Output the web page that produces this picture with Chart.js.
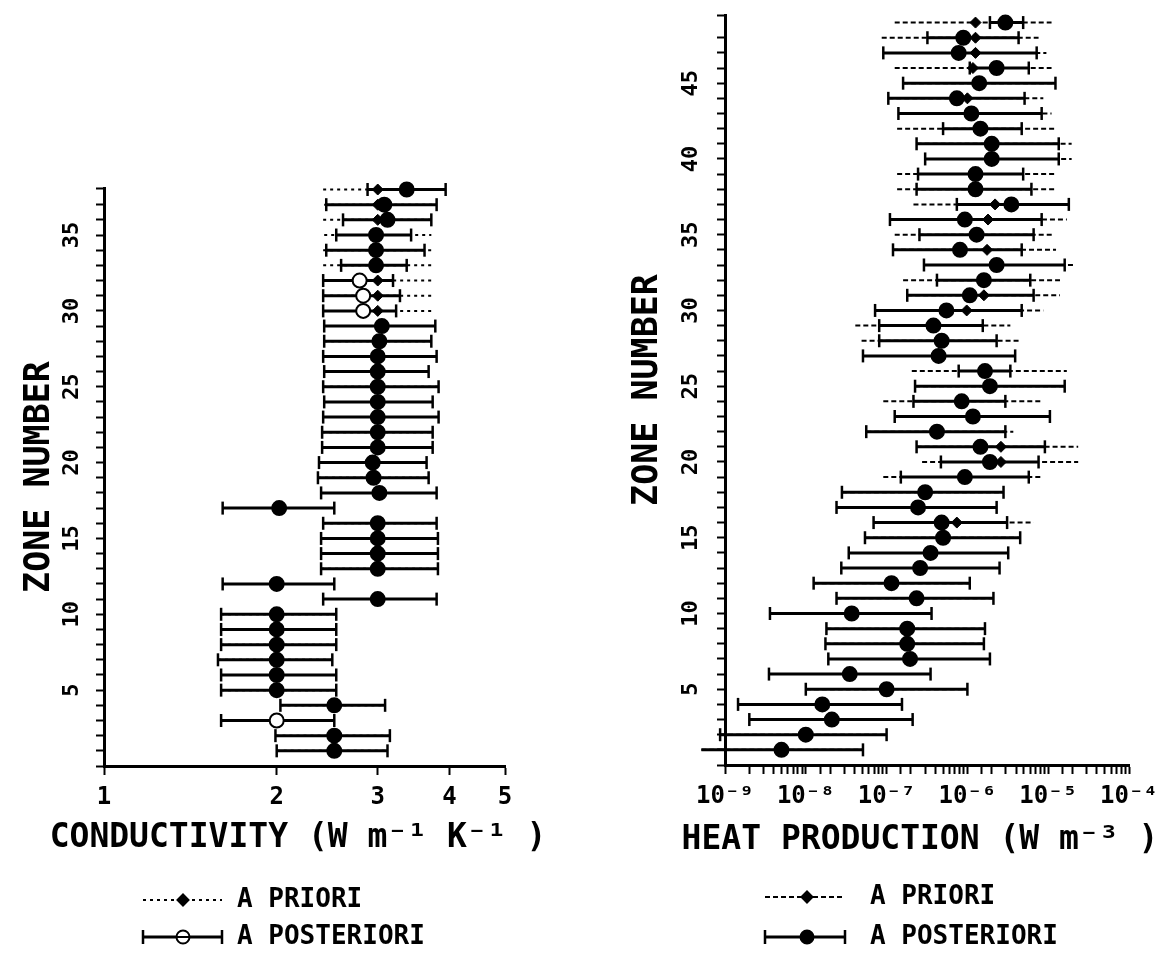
<!DOCTYPE html>
<html>
<head>
<meta charset="utf-8">
<title>Conductivity and heat production by zone</title>
<script src="https://cdn.jsdelivr.net/npm/chart.js@4.4.1/dist/chart.umd.min.js"></script>
<style>
  html, body { margin: 0; padding: 0; background: #fff; }
  #wrap { position: relative; width: 1176px; height: 962px; overflow: hidden; }
  .panel { position: absolute; top: 0; height: 962px; }
  #condPanel { left: 0; width: 580px; }
  #heatPanel { left: 590px; width: 586px; }
</style>
</head>
<body>
<div id="wrap">
  <div class="panel" id="condPanel"><canvas id="condChart"></canvas></div>
  <div class="panel" id="heatPanel"><canvas id="heatChart"></canvas></div>
</div>
<script>
// Zone-by-zone a priori / a posteriori estimates

// ---- left panel: conductivity, W m-1 K-1 ----
const condZones = [1, 2, 3, 4, 5, 6, 7, 8, 9, 10, 11, 12, 13, 14, 15, 16, 17, 18, 19, 20,
  21, 22, 23, 24, 25, 26, 27, 28, 29, 30, 31, 32, 33, 34, 35, 36, 37, 38];
const condPost = [2.52, 2.52, 2.0, 2.52, 2.0, 2.0, 2.0, 2.0, 2.0, 2.0,
  3.0, 2.0, 3.0, 3.0, 3.0, 3.0, 2.02, 3.02, 2.95, 2.94,
  3.0, 3.0, 3.0, 3.0, 3.0, 3.0, 3.0, 3.02, 3.05, 2.83,
  2.83, 2.79, 2.98, 2.98, 2.98, 3.12, 3.08, 3.37];
const condPostLow = [2.0, 1.99, 1.6, 2.03, 1.6, 1.6, 1.58, 1.6, 1.6, 1.6,
  2.41, 1.61, 2.39, 2.39, 2.39, 2.41, 1.61, 2.39, 2.36, 2.37,
  2.40, 2.40, 2.41, 2.42, 2.41, 2.42, 2.41, 2.42, 2.42, 2.41,
  2.41, 2.41, 2.59, 2.44, 2.54, 2.61, 2.44, 2.88];
const condPostHigh = [3.12, 3.15, 2.52, 3.09, 2.54, 2.54, 2.5, 2.54, 2.54, 2.54,
  3.8, 2.52, 3.82, 3.82, 3.82, 3.8, 2.52, 3.8, 3.68, 3.65,
  3.74, 3.74, 3.83, 3.74, 3.83, 3.68, 3.8, 3.72, 3.78, 3.23,
  3.28, 3.19, 3.37, 3.62, 3.43, 3.72, 3.8, 3.94];
const condPrior = [2.52, 2.52, 2.0, 2.52, 2.0, 2.0, 2.0, 2.0, 2.0, 2.0,
  3.0, 2.0, 3.0, 3.0, 3.0, 3.0, 2.02, 3.02, 2.95, 2.94,
  3.0, 3.0, 3.0, 3.0, 3.0, 3.0, 3.0, 3.02, 3.05, 3.0,
  3.0, 3.0, 3.0, 3.0, 3.0, 3.0, 3.0, 3.0];
const condPriorLow = [2.0, 1.99, 1.6, 2.03, 1.6, 1.6, 1.58, 1.6, 1.6, 1.6,
  2.41, 1.61, 2.39, 2.39, 2.39, 2.41, 1.61, 2.39, 2.36, 2.37,
  2.40, 2.40, 2.41, 2.42, 2.41, 2.42, 2.41, 2.42, 2.42, 2.41,
  2.41, 2.41, 2.41, 2.41, 2.42, 2.41, 2.42, 2.41];
const condPriorHigh = [3.12, 3.15, 2.52, 3.09, 2.54, 2.54, 2.5, 2.54, 2.54, 2.54,
  3.8, 2.52, 3.82, 3.82, 3.82, 3.8, 2.52, 3.8, 3.68, 3.65,
  3.74, 3.74, 3.83, 3.74, 3.83, 3.68, 3.8, 3.72, 3.78, 3.72,
  3.72, 3.72, 3.72, 3.72, 3.72, 3.72, 3.8, 3.8];
const condTickValues = [1, 2, 3, 4, 5];
const condTickLabels = ['1', '2', '3', '4', '5'];

// ---- right panel: heat production, W m-3 ----
const heatZones = [1, 2, 3, 4, 5, 6, 7, 8, 9, 10, 11, 12, 13, 14, 15, 16, 17, 18, 19, 20,
  21, 22, 23, 24, 25, 26, 27, 28, 29, 30, 31, 32, 33, 34, 35, 36, 37, 38, 39, 40,
  41, 42, 43, 44, 45, 46, 47, 48, 49];
const heatPost = [5.0e-9, 1.0e-8, 2.1e-8, 1.6e-8, 1.0e-7, 3.5e-8, 1.95e-7, 1.8e-7, 1.8e-7, 3.7e-8,
  2.35e-7, 1.15e-7, 2.6e-7, 3.5e-7, 5.0e-7, 4.8e-7, 2.45e-7, 3.0e-7, 9.3e-7, 1.9e-6,
  1.45e-6, 4.2e-7, 1.17e-6, 8.5e-7, 1.9e-6, 1.65e-6, 4.4e-7, 4.8e-7, 3.8e-7, 5.5e-7,
  1.07e-6, 1.6e-6, 2.3e-6, 8.1e-7, 1.3e-6, 9.3e-7, 3.5e-6, 1.26e-6, 1.26e-6, 2.0e-6,
  2.0e-6, 1.45e-6, 1.12e-6, 7.4e-7, 1.4e-6, 2.3e-6, 7.8e-7, 8.9e-7, 2.95e-6];
const heatPostLow = [5.1e-10, 8.7e-10, 2.0e-9, 1.45e-9, 1.0e-8, 3.5e-9, 1.9e-8, 1.75e-8, 1.8e-8, 3.6e-9,
  2.4e-8, 1.25e-8, 2.75e-8, 3.4e-8, 5.4e-8, 6.9e-8, 2.4e-8, 2.8e-8, 1.5e-7, 4.7e-7,
  2.35e-7, 5.6e-8, 1.26e-7, 2.15e-7, 2.25e-7, 7.8e-7, 5.1e-8, 8.1e-8, 8.1e-8, 7.2e-8,
  1.8e-7, 4.2e-7, 2.9e-7, 1.2e-7, 2.55e-7, 1.1e-7, 7.4e-7, 2.35e-7, 2.45e-7, 3.0e-7,
  2.35e-7, 5.0e-7, 1.4e-7, 1.05e-7, 1.6e-7, 1.07e-6, 9.1e-8, 3.2e-7, 1.9e-6];
const heatPostHigh = [5.1e-8, 1.0e-7, 2.1e-7, 1.55e-7, 1.0e-6, 3.5e-7, 1.9e-6, 1.6e-6, 1.65e-6, 3.6e-7,
  2.1e-6, 1.07e-6, 2.5e-6, 3.2e-6, 4.5e-6, 3.1e-6, 2.3e-6, 2.8e-6, 5.75e-6, 7.6e-6,
  9.1e-6, 2.95e-6, 1.05e-5, 2.95e-6, 1.6e-5, 3.4e-6, 3.9e-6, 2.3e-6, 1.55e-6, 4.7e-6,
  6.6e-6, 6.0e-6, 1.6e-5, 4.7e-6, 6.6e-6, 8.3e-6, 1.8e-5, 6.2e-6, 4.9e-6, 1.35e-5,
  1.35e-5, 4.7e-6, 8.3e-6, 5.1e-6, 1.23e-5, 5.75e-6, 7.2e-6, 4.3e-6, 4.9e-6];
const heatPrior = [5.0e-9, 1.0e-8, 2.1e-8, 1.6e-8, 1.0e-7, 3.5e-8, 1.95e-7, 1.8e-7, 1.8e-7, 3.7e-8,
  2.35e-7, 1.15e-7, 2.6e-7, 3.5e-7, 5.0e-7, 7.4e-7, 2.45e-7, 3.0e-7, 9.3e-7, 2.6e-6,
  2.6e-6, 4.2e-7, 1.17e-6, 8.5e-7, 1.9e-6, 1.65e-6, 4.4e-7, 4.8e-7, 3.8e-7, 9.8e-7,
  1.6e-6, 1.6e-6, 2.3e-6, 1.75e-6, 1.3e-6, 1.8e-6, 2.2e-6, 1.26e-6, 1.26e-6, 2.0e-6,
  2.0e-6, 1.35e-6, 1.12e-6, 1.0e-6, 1.4e-6, 1.17e-6, 1.26e-6, 1.26e-6, 1.26e-6];
const heatPriorLow = [5.1e-10, 8.7e-10, 2.0e-9, 1.45e-9, 1.0e-8, 3.5e-9, 1.9e-8, 1.75e-8, 1.8e-8, 3.6e-9,
  2.4e-8, 1.25e-8, 2.75e-8, 3.4e-8, 5.4e-8, 6.9e-8, 2.4e-8, 2.8e-8, 9.1e-8, 2.75e-7,
  2.35e-7, 5.6e-8, 1.26e-7, 9.1e-8, 2.25e-7, 2.05e-7, 5.1e-8, 4.9e-8, 4.1e-8, 7.2e-8,
  1.8e-7, 1.6e-7, 2.9e-7, 1.2e-7, 1.26e-7, 1.1e-7, 2.15e-7, 1.35e-7, 1.35e-7, 3.0e-7,
  2.35e-7, 1.35e-7, 1.4e-7, 1.05e-7, 1.6e-7, 1.26e-7, 9.1e-8, 8.7e-8, 1.26e-7];
const heatPriorHigh = [5.1e-8, 1.0e-7, 2.1e-7, 1.55e-7, 1.0e-6, 3.5e-7, 1.9e-6, 1.6e-6, 1.65e-6, 3.6e-7,
  2.1e-6, 1.07e-6, 2.5e-6, 3.2e-6, 4.5e-6, 6.6e-6, 2.3e-6, 2.8e-6, 8.3e-6, 2.35e-5,
  2.35e-5, 3.7e-6, 1.05e-5, 8.3e-6, 1.6e-5, 1.7e-5, 3.9e-6, 4.3e-6, 3.4e-6, 8.7e-6,
  1.4e-5, 1.4e-5, 2.2e-5, 1.25e-5, 1.17e-5, 1.7e-5, 1.8e-5, 1.23e-5, 1.23e-5, 1.95e-5,
  1.95e-5, 1.23e-5, 1.1e-5, 8.7e-6, 1.23e-5, 1.1e-5, 9.5e-6, 7.6e-6, 1.1e-5];
const heatTickValues = [1e-9, 1e-8, 1e-7, 1e-6, 1e-5, 1e-4];
const heatTickLabels = ['10⁻⁹', '10⁻⁸', '10⁻⁷', '10⁻⁶', '10⁻⁵', '10⁻⁴'];

const INK = '#000';
const MONO = '"DejaVu Sans Mono", "Liberation Mono", monospace';

// zones whose a posteriori marker is drawn hollow in the figure
const condOpenZones = [3, 30, 31, 32];

function markers(zones, vals) {
  return zones.map((z, i) => ({ x: vals[i], y: z }));
}

// horizontal bars, one segment per zone, broken by null points
function bars(zones, lows, highs) {
  const out = [];
  zones.forEach((z, i) => {
    out.push({ x: lows[i], y: z }, { x: highs[i], y: z }, { x: null, y: null });
  });
  return out;
}

function tickLabel(values, labels) {
  return v => {
    const i = values.findIndex(t => Math.abs(v / t - 1) < 1e-6);
    return i >= 0 ? labels[i] : '';
  };
}

// x-axis caption (drawn here so it is not squeezed to the plot width) and the key
const errKey = {
  id: 'errKey',
  afterDraw(chart, args, o) {
    const { ctx } = chart;
    const ds = chart.data.datasets;
    const [y1, y2] = o.rows;
    ctx.save();
    ctx.strokeStyle = INK;
    ctx.fillStyle = INK;

    ctx.font = 'bold 33px ' + MONO;
    ctx.textAlign = 'center';
    ctx.textBaseline = 'middle';
    ctx.fillText(o.caption, o.captionX, o.captionY);
    ctx.textAlign = 'left';

    // a priori: dashed line with diamond
    ctx.lineWidth = 2;
    ctx.setLineDash(o.dash);
    ctx.beginPath(); ctx.moveTo(o.x0, y1); ctx.lineTo(o.x1, y1); ctx.stroke();
    ctx.setLineDash([]);
    Chart.helpers.drawPoint(ctx, { pointStyle: 'rectRot', radius: 5.5, borderWidth: 1 }, o.mid, y1);
    ctx.fill();

    // a posteriori: capped bar with circle
    ctx.lineWidth = 3;
    ctx.beginPath(); ctx.moveTo(o.x0, y2); ctx.lineTo(o.x1, y2); ctx.stroke();
    ctx.lineWidth = 2.5;
    ctx.beginPath();
    ctx.moveTo(o.x0, y2 - 7); ctx.lineTo(o.x0, y2 + 7);
    ctx.moveTo(o.x1, y2 - 7); ctx.lineTo(o.x1, y2 + 7);
    ctx.stroke();
    ctx.fillStyle = o.hollow ? '#fff' : INK;
    ctx.lineWidth = 2;
    ctx.beginPath(); ctx.arc(o.mid, y2, 6.5, 0, Math.PI * 2); ctx.fill(); ctx.stroke();
    if (o.hollow) { ctx.beginPath(); ctx.moveTo(o.mid - 6.5, y2); ctx.lineTo(o.mid + 6.5, y2); ctx.stroke(); }

    ctx.fillStyle = INK;
    ctx.font = 'bold 26px ' + MONO;
    ctx.fillText(ds[2].label, o.textX, y1);
    ctx.fillText(ds[0].label, o.textX, y2);
    ctx.restore();
  }
};

function panelDatasets(zones, pv, pl, ph, qv, ql, qh, dash, openZones) {
  return [
    {
      label: 'A POSTERIORI', data: markers(zones, qv), clip: false,
      pointStyle: 'circle', pointRadius: 7, pointBorderWidth: 2, pointBorderColor: INK,
      pointBackgroundColor: c => openZones.includes(zones[c.dataIndex]) ? '#fff' : INK
    },
    {
      label: 'posterior range', data: bars(zones, ql, qh), clip: false,
      showLine: true, spanGaps: false, borderColor: INK, borderWidth: 3,
      pointStyle: 'line', pointRotation: 90, pointRadius: 6.5, pointBorderWidth: 2.5, pointBorderColor: INK
    },
    {
      label: 'A PRIORI', data: markers(zones, pv), clip: false,
      pointStyle: 'rectRot', pointRadius: 5.5, pointBackgroundColor: INK, pointBorderColor: INK, pointBorderWidth: 1
    },
    {
      label: 'prior range', data: bars(zones, pl, ph), clip: false,
      showLine: true, spanGaps: false, borderColor: INK, borderWidth: 2, borderDash: dash, pointRadius: 0
    }
  ];
}

function zoneAxis(max, width, pad, titlePad) {
  return {
    type: 'linear', min: 0, max,
    afterFit: s => { s.width = width; s.paddingTop = 0; s.paddingBottom = 0; },
    border: { display: true, color: INK, width: 3 },
    grid: { drawOnChartArea: false, drawTicks: true, tickLength: 8, tickWidth: 2, tickColor: INK },
    ticks: {
      stepSize: 1, autoSkip: false, minRotation: 90, maxRotation: 90, crossAlign: 'center',
      padding: pad, color: INK, font: { family: MONO, size: 22, weight: 'bold' },
      callback: v => (v > 0 && v % 5 === 0) ? String(v) : ''
    },
    title: {
      display: true, text: 'ZONE NUMBER', color: INK,
      font: { family: MONO, size: 35, weight: 'bold', lineHeight: 1.2 },
      padding: { top: titlePad, bottom: 0 }
    }
  };
}

function valueAxis(min, max, height, tickFn, onlyTicks) {
  return {
    type: 'logarithmic', min, max,
    afterFit: s => { s.height = height; },
    afterBuildTicks: s => { if (onlyTicks) s.ticks = onlyTicks.map(v => ({ value: v })); },
    border: { display: true, color: INK, width: 3 },
    grid: { drawOnChartArea: false, drawTicks: true, tickLength: 9, tickWidth: 2, tickColor: INK },
    ticks: {
      autoSkip: false, maxRotation: 0, minRotation: 0, padding: 8, color: INK,
      font: { family: MONO, size: 24, weight: 'bold' }, callback: tickFn
    },
    title: { display: false }
  };
}

Chart.defaults.font.family = MONO;
Chart.defaults.color = INK;

new Chart(document.getElementById('condChart'), {
  type: 'scatter',
  data: {
    datasets: panelDatasets(condZones, condPrior, condPriorLow, condPriorHigh,
      condPost, condPostLow, condPostHigh, [3, 4], condOpenZones)
  },
  options: {
    responsive: true,
    maintainAspectRatio: false,
    animation: false,
    events: [],
    layout: { padding: { left: 0, right: 75, top: 188, bottom: 0 } },
    plugins: {
      legend: { display: false },
      tooltip: { enabled: false },
      errKey: {
        caption: 'CONDUCTIVITY (W m⁻¹ K⁻¹ )', captionX: 298, captionY: 838,
        x0: 143, x1: 222, mid: 183, textX: 237, rows: [900, 937], dash: [3, 4], hollow: true
      }
    },
    scales: {
      x: valueAxis(1, 5, 196, tickLabel(condTickValues, condTickLabels), condTickValues),
      y: zoneAxis(38.1, 104, 10, 19)
    }
  },
  plugins: [errKey]
});

new Chart(document.getElementById('heatChart'), {
  type: 'scatter',
  data: {
    datasets: panelDatasets(heatZones, heatPrior, heatPriorLow, heatPriorHigh,
      heatPost, heatPostLow, heatPostHigh, [5, 3], [])
  },
  options: {
    responsive: true,
    maintainAspectRatio: false,
    animation: false,
    events: [],
    layout: { padding: { left: 0, right: 47, top: 15, bottom: 0 } },
    plugins: {
      legend: { display: false },
      tooltip: { enabled: false },
      errKey: {
        caption: 'HEAT PRODUCTION (W m⁻³ )', captionX: 330, captionY: 840,
        x0: 175, x1: 255, mid: 217, textX: 280, rows: [897, 937], dash: [5, 3], hollow: false
      }
    },
    scales: {
      x: valueAxis(1e-9, 1e-4, 197, tickLabel(heatTickValues, heatTickLabels), null),
      y: zoneAxis(49.5, 135, 12, 37)
    }
  },
  plugins: [errKey]
});
</script>
</body>
</html>
